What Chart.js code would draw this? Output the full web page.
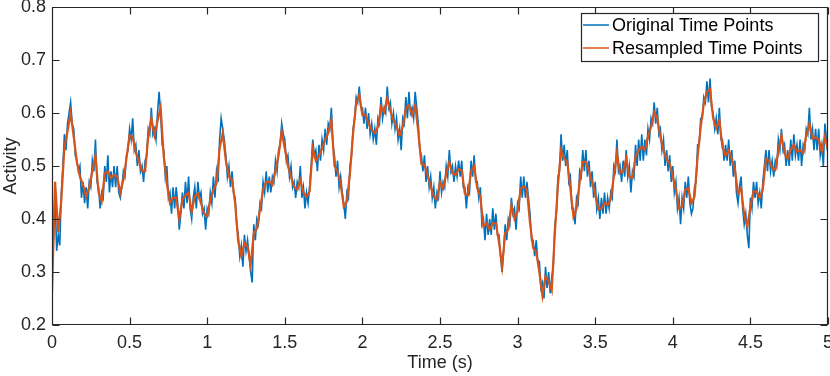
<!DOCTYPE html>
<html lang="en">
<head>
<meta charset="UTF-8">
<title>Activity</title>
<style>
  html, body { margin: 0; padding: 0; background: #fff; }
</style>
</head>
<body>
<canvas id="chart" width="830" height="376"></canvas>
<script src="https://cdn.jsdelivr.net/npm/chart.js@4"></script>
<script>
// original signal, one value every 0.01 s from 0 to 5 s
const origStep = 0.01;
const origValues = [
  0.45, 0.36, 0.44, 0.34, 0.37, 0.35, 0.45, 0.50, 0.56, 0.53,
  0.58, 0.60, 0.62, 0.58, 0.57, 0.52, 0.51, 0.49, 0.50, 0.44,
  0.47, 0.43, 0.46, 0.42, 0.47, 0.46, 0.51, 0.49, 0.55, 0.47,
  0.46, 0.42, 0.45, 0.44, 0.50, 0.47, 0.52, 0.45, 0.49, 0.46,
  0.50, 0.46, 0.50, 0.45, 0.44, 0.46, 0.49, 0.48, 0.52, 0.53,
  0.57, 0.55, 0.59, 0.53, 0.54, 0.50, 0.53, 0.49, 0.50, 0.47,
  0.51, 0.52, 0.57, 0.56, 0.61, 0.56, 0.57, 0.55, 0.60, 0.64,
  0.60, 0.54, 0.53, 0.48, 0.50, 0.44, 0.45, 0.41, 0.46, 0.42,
  0.46, 0.43, 0.38, 0.41, 0.45, 0.42, 0.47, 0.43, 0.48, 0.42,
  0.40, 0.44, 0.46, 0.42, 0.47, 0.44, 0.45, 0.41, 0.42, 0.38,
  0.42, 0.41, 0.45, 0.43, 0.48, 0.44, 0.49, 0.47, 0.55, 0.59,
  0.57, 0.55, 0.52, 0.48, 0.50, 0.46, 0.49, 0.45, 0.44, 0.39,
  0.37, 0.33, 0.35, 0.31, 0.37, 0.34, 0.36, 0.33, 0.30, 0.28,
  0.39, 0.36, 0.40, 0.39, 0.43, 0.42, 0.47, 0.45, 0.49, 0.45,
  0.48, 0.45, 0.48, 0.47, 0.51, 0.49, 0.53, 0.54, 0.58, 0.56,
  0.55, 0.51, 0.52, 0.48, 0.50, 0.46, 0.47, 0.44, 0.47, 0.46,
  0.50, 0.44, 0.46, 0.42, 0.45, 0.43, 0.46, 0.50, 0.55, 0.52,
  0.53, 0.49, 0.54, 0.51, 0.55, 0.53, 0.57, 0.54, 0.58, 0.57,
  0.61, 0.54, 0.52, 0.48, 0.51, 0.46, 0.48, 0.45, 0.43, 0.40,
  0.45, 0.44, 0.50, 0.52, 0.57, 0.59, 0.63, 0.62, 0.65, 0.61,
  0.61, 0.58, 0.61, 0.57, 0.60, 0.56, 0.58, 0.55, 0.57, 0.54,
  0.59, 0.58, 0.63, 0.59, 0.61, 0.60, 0.65, 0.61, 0.62, 0.58,
  0.60, 0.57, 0.59, 0.55, 0.57, 0.53, 0.59, 0.58, 0.63, 0.59,
  0.64, 0.60, 0.61, 0.59, 0.64, 0.61, 0.58, 0.53, 0.52, 0.49,
  0.52, 0.47, 0.50, 0.46, 0.48, 0.44, 0.46, 0.42, 0.45, 0.44,
  0.49, 0.45, 0.47, 0.46, 0.50, 0.48, 0.53, 0.49, 0.50, 0.47,
  0.50, 0.48, 0.51, 0.48, 0.51, 0.46, 0.46, 0.42, 0.46, 0.45,
  0.51, 0.48, 0.52, 0.47, 0.47, 0.44, 0.46, 0.39, 0.40, 0.36,
  0.41, 0.37, 0.40, 0.37, 0.42, 0.38, 0.41, 0.37, 0.37, 0.33,
  0.30, 0.34, 0.39, 0.36, 0.40, 0.39, 0.44, 0.41, 0.42, 0.38,
  0.43, 0.42, 0.48, 0.44, 0.48, 0.44, 0.47, 0.44, 0.41, 0.36,
  0.36, 0.33, 0.36, 0.32, 0.32, 0.27, 0.28, 0.25, 0.31, 0.27,
  0.30, 0.26, 0.29, 0.31, 0.39, 0.41, 0.48, 0.49, 0.56, 0.51,
  0.54, 0.50, 0.53, 0.47, 0.48, 0.42, 0.42, 0.39, 0.44, 0.43,
  0.49, 0.48, 0.53, 0.49, 0.53, 0.48, 0.51, 0.46, 0.49, 0.44,
  0.47, 0.42, 0.44, 0.40, 0.44, 0.41, 0.45, 0.41, 0.44, 0.42,
  0.45, 0.44, 0.50, 0.49, 0.55, 0.49, 0.50, 0.47, 0.51, 0.48,
  0.53, 0.48, 0.50, 0.45, 0.49, 0.48, 0.54, 0.50, 0.55, 0.51,
  0.56, 0.51, 0.55, 0.52, 0.57, 0.55, 0.59, 0.58, 0.62, 0.58,
  0.61, 0.56, 0.57, 0.53, 0.55, 0.50, 0.53, 0.49, 0.52, 0.47,
  0.50, 0.45, 0.47, 0.42, 0.44, 0.39, 0.44, 0.42, 0.47, 0.44,
  0.48, 0.43, 0.41, 0.42, 0.46, 0.47, 0.54, 0.54, 0.59, 0.59,
  0.63, 0.62, 0.66, 0.62, 0.665, 0.61, 0.60, 0.57, 0.59, 0.56,
  0.61, 0.55, 0.55, 0.51, 0.54, 0.51, 0.55, 0.50, 0.53, 0.48,
  0.51, 0.45, 0.43, 0.46, 0.48, 0.42, 0.39, 0.41, 0.37, 0.345,
  0.44, 0.42, 0.47, 0.44, 0.47, 0.43, 0.45, 0.42, 0.47, 0.50,
  0.53, 0.49, 0.53, 0.49, 0.51, 0.48, 0.51, 0.50, 0.55, 0.53,
  0.57, 0.53, 0.54, 0.50, 0.53, 0.50, 0.55, 0.51, 0.56, 0.52,
  0.54, 0.51, 0.55, 0.50, 0.54, 0.53, 0.57, 0.56, 0.61, 0.55,
  0.57, 0.53, 0.57, 0.53, 0.57, 0.52, 0.54, 0.50, 0.58, 0.55,
  0.52
];

// resampled signal, one value every 0.02 s
const resStep = 0.02;
const resValues = [
  0.26, 0.47, 0.375, 0.435, 0.536, 0.565, 0.60, 0.555, 0.508, 0.48,
  0.464, 0.442, 0.46, 0.49, 0.52, 0.45, 0.433, 0.486, 0.49, 0.477,
  0.483, 0.48, 0.45, 0.474, 0.515, 0.558, 0.555, 0.525, 0.51, 0.49,
  0.49, 0.555, 0.59, 0.558, 0.585, 0.61, 0.518, 0.467, 0.43, 0.44,
  0.44, 0.40, 0.436, 0.445, 0.45, 0.414, 0.443, 0.448, 0.43, 0.41,
  0.405, 0.436, 0.455, 0.467, 0.533, 0.562, 0.51, 0.48, 0.474, 0.43,
  0.357, 0.33, 0.355, 0.348, 0.313, 0.373, 0.382, 0.417, 0.455, 0.47,
  0.47, 0.464, 0.492, 0.52, 0.565, 0.533, 0.50, 0.48, 0.46, 0.455,
  0.474, 0.45, 0.442, 0.452, 0.533, 0.51, 0.52, 0.533, 0.55, 0.562,
  0.587, 0.50, 0.49, 0.466, 0.423, 0.433, 0.486, 0.562, 0.618, 0.634,
  0.596, 0.596, 0.58, 0.568, 0.562, 0.574, 0.612, 0.602, 0.628, 0.604,
  0.587, 0.574, 0.558, 0.574, 0.609, 0.615, 0.596, 0.615, 0.565, 0.504,
  0.502, 0.483, 0.461, 0.442, 0.436, 0.47, 0.458, 0.485, 0.508, 0.486,
  0.483, 0.494, 0.492, 0.448, 0.445, 0.49, 0.50, 0.458, 0.442, 0.386,
  0.392, 0.38, 0.392, 0.392, 0.357, 0.31, 0.373, 0.38, 0.426, 0.40,
  0.414, 0.458, 0.462, 0.455, 0.392, 0.345, 0.338, 0.30, 0.255, 0.292,
  0.282, 0.265, 0.373, 0.464, 0.53, 0.514, 0.508, 0.458, 0.404, 0.42,
  0.47, 0.508, 0.508, 0.49, 0.47, 0.448, 0.418, 0.42, 0.43, 0.426,
  0.437, 0.48, 0.524, 0.486, 0.49, 0.514, 0.48, 0.477, 0.518, 0.53,
  0.536, 0.53, 0.555, 0.574, 0.602, 0.59, 0.555, 0.53, 0.513, 0.505,
  0.48, 0.455, 0.42, 0.423, 0.455, 0.458, 0.43, 0.442, 0.518, 0.574,
  0.618, 0.64, 0.645, 0.59, 0.571, 0.587, 0.535, 0.52, 0.53, 0.513,
  0.494, 0.448, 0.458, 0.408, 0.386, 0.423, 0.452, 0.452, 0.44, 0.455,
  0.514, 0.51, 0.496, 0.492, 0.527, 0.558, 0.523, 0.514, 0.531, 0.54,
  0.527, 0.53, 0.524, 0.558, 0.58, 0.552, 0.554, 0.55, 0.527, 0.555,
  0.53
];

const seriesNames = ['Original Time Points', 'Resampled Time Points'];
const seriesColors = ['#0072BD', '#D95319'];
const xRange = [0, 5];
const xTickStep = 0.5;
const yRange = [0.2, 0.8];
const yTickStep = 0.1;

const toPoints = (vals, step) => vals.map((v, i) => ({ x: +(i * step).toFixed(3), y: v }));

const FONT = "'Liberation Sans', Arial, Helvetica, sans-serif";
Chart.defaults.font.family = FONT;
Chart.defaults.font.size = 18;
Chart.defaults.color = '#262626';

// MATLAB-like box with inward ticks, plus a legend inside the axes
const matlabFrame = {
  id: 'matlabFrame',
  afterDraw(chart) {
    const { ctx, chartArea: a, scales } = chart;
    const L = a.left + 0.5, R = a.right - 0.5, T = a.top + 0.5, B = a.bottom - 0.5;
    const tl = 7;
    ctx.save();
    ctx.strokeStyle = '#262626';
    ctx.lineWidth = 1.2;
    ctx.beginPath();
    ctx.rect(L, T, R - L, B - T);
    scales.x.ticks.forEach(t => {
      const px = Math.round(scales.x.getPixelForValue(t.value)) + 0.5;
      ctx.moveTo(px, B); ctx.lineTo(px, B - tl);
      ctx.moveTo(px, T); ctx.lineTo(px, T + tl);
    });
    scales.y.ticks.forEach(t => {
      const py = Math.round(scales.y.getPixelForValue(t.value)) + 0.5;
      ctx.moveTo(L, py); ctx.lineTo(L + tl, py);
      ctx.moveTo(R, py); ctx.lineTo(R - tl, py);
    });
    ctx.stroke();

    // legend
    const lx = 581.5, ly = 13.5, lw = 237, lh = 48;
    ctx.fillStyle = '#fff';
    ctx.fillRect(lx, ly, lw, lh);
    ctx.strokeRect(lx, ly, lw, lh);
    ctx.font = '18px ' + FONT;
    ctx.textBaseline = 'middle';
    ctx.textAlign = 'left';
    chart.data.datasets.forEach((ds, i) => {
      const rowY = 25 + i * 23;
      ctx.strokeStyle = ds.borderColor;
      ctx.lineWidth = 1.5;
      ctx.beginPath();
      ctx.moveTo(583, rowY); ctx.lineTo(609, rowY);
      ctx.stroke();
      ctx.fillStyle = '#000';
      ctx.fillText(ds.label, 612, rowY + 1);
    });
    ctx.restore();
  }
};

new Chart(document.getElementById('chart'), {
  type: 'line',
  data: {
    datasets: [
      {
        label: seriesNames[0],
        data: toPoints(origValues, origStep),
        borderColor: seriesColors[0],
        borderWidth: 1.6,
        pointRadius: 0,
        tension: 0,
        order: 2
      },
      {
        label: seriesNames[1],
        data: toPoints(resValues, resStep),
        borderColor: seriesColors[1],
        borderWidth: 2.2,
        pointRadius: 0,
        tension: 0,
        order: 1
      }
    ]
  },
  options: {
    responsive: false,
    animation: false,
    parsing: false,
    layout: { padding: { top: 7, right: 2, left: 0, bottom: 0 } },
    plugins: { legend: { display: false }, tooltip: { enabled: false } },
    scales: {
      x: {
        type: 'linear',
        min: xRange[0],
        max: xRange[1],
        afterFit(s) { s.height = 51; s.paddingLeft = 0; s.paddingRight = 0; },
        grid: { display: false, drawTicks: false },
        border: { display: false },
        ticks: {
          stepSize: xTickStep,
          padding: 7,
          maxRotation: 0,
          color: '#262626',
          callback: v => String(+v.toFixed(1))
        },
        title: { display: true, text: 'Time (s)', padding: { top: 0, bottom: 2 }, color: '#262626' }
      },
      y: {
        type: 'linear',
        min: yRange[0],
        max: yRange[1],
        afterFit(s) { s.width = 52; s.paddingTop = 0; s.paddingBottom = 0; },
        grid: { display: false, drawTicks: false },
        border: { display: false },
        ticks: {
          stepSize: yTickStep,
          padding: 6,
          color: '#262626',
          callback: v => v.toFixed(1)
        },
        title: { display: true, text: 'Activity', padding: { top: 0, bottom: 0 }, color: '#262626' }
      }
    }
  },
  plugins: [matlabFrame]
});
</script>
</body>
</html>
